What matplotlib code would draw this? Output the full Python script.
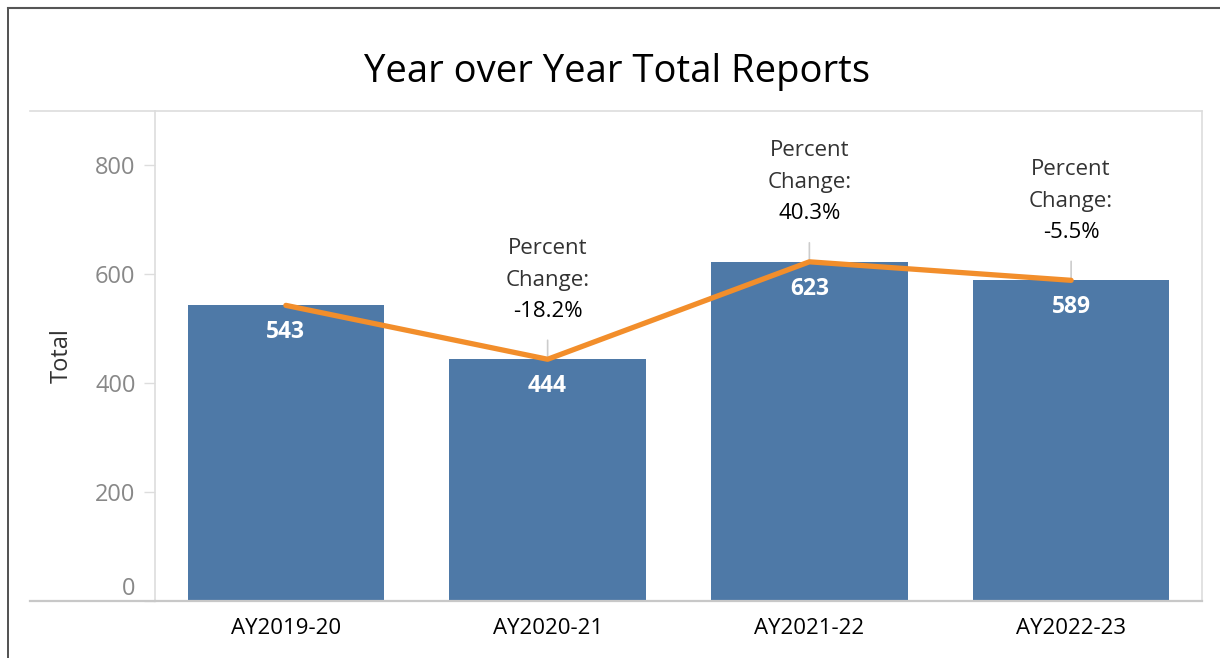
import matplotlib
matplotlib.use("Agg")
import matplotlib.pyplot as plt
from matplotlib.lines import Line2D

categories = ["AY2019-20", "AY2020-21", "AY2021-22", "AY2022-23"]
totals = [543, 444, 623, 589]
pct_change = [None, "-18.2%", "40.3%", "-5.5%"]
yticks = [0, 200, 400, 600, 800]

FONT = ["Open Sans", "DejaVu Sans"]
plt.rcParams["font.family"] = FONT

W, H = 1220, 658
fig = plt.figure(figsize=(W / 100, H / 100), dpi=100)
ax = fig.add_axes([155 / W, 57 / H, (1202 - 155) / W, (601 - 111) / H])

x = list(range(len(categories)))
ax.bar(x, totals, width=0.75, color="#4E79A7", zorder=2)
ax.plot(x, totals, color="#F28E2B", lw=3.8, zorder=3, solid_capstyle="round")

ax.set_xlim(-0.5, len(categories) - 0.5)
ax.set_ylim(0, 900)

for xi, v in zip(x, totals):
    ax.annotate(str(v), (xi, v), xytext=(0, -27), textcoords="offset pixels",
                ha="center", va="center", color="white", fontsize=16.5,
                fontweight="bold", zorder=4)

for xi, v, p in zip(x, totals, pct_change):
    if p is None:
        continue
    ax.annotate("", (xi, v), xytext=(0, 19), textcoords="offset pixels",
                arrowprops=dict(arrowstyle="-", color="#cccccc", lw=1.2,
                                shrinkA=0, shrinkB=0), zorder=1)
    ax.annotate(p, (xi, v), xytext=(0, 48), textcoords="offset pixels",
                ha="center", va="center", color="black", fontsize=16)
    ax.annotate("Change:", (xi, v), xytext=(0, 79), textcoords="offset pixels",
                ha="center", va="center", color="#333333", fontsize=16)
    ax.annotate("Percent", (xi, v), xytext=(0, 111), textcoords="offset pixels",
                ha="center", va="center", color="#333333", fontsize=16)

ax.set_yticks(yticks)
ax.set_yticklabels([str(t) for t in yticks])
for lab, t in zip(ax.get_yticklabels(), yticks):
    if t == 0:
        lab.set_va("bottom")
ax.tick_params(axis="y", colors="#dddddd", labelcolor="#888888", labelsize=17,
               length=8, width=1, pad=6)
ax.set_xticks(x)
ax.set_xticklabels(categories)
ax.tick_params(axis="x", length=0, labelsize=16, labelcolor="black", pad=12)

for s in ["left", "top", "right"]:
    ax.spines[s].set_color("#dddddd")
    ax.spines[s].set_linewidth(1.2)
ax.spines["bottom"].set_color("#c8c8c8")
ax.spines["bottom"].set_linewidth(1.6)

ax.set_ylabel("Total", fontsize=17, color="#333333", labelpad=0)
ax.yaxis.set_label_coords((74 - 155) / (1202 - 155), 0.5)

# header row extensions
fig.add_artist(Line2D([30 / W, 155 / W], [1 - 111 / H, 1 - 111 / H], color="#dddddd", lw=1.2))
fig.add_artist(Line2D([30 / W, 155 / W], [57 / H, 57 / H], color="#c8c8c8", lw=1.6))
# outer frame
fig.add_artist(Line2D([8 / W, 8 / W], [0, 1 - 8 / H], color="#333333", lw=1.2))
fig.add_artist(Line2D([8 / W, 1], [1 - 8 / H, 1 - 8 / H], color="#555555", lw=1.5))

fig.text(617 / W, 1 - 72 / H, "Year over Year Total Reports", ha="center",
         va="center", fontsize=27.5, color="black")

fig.savefig("out.png", dpi=100)
